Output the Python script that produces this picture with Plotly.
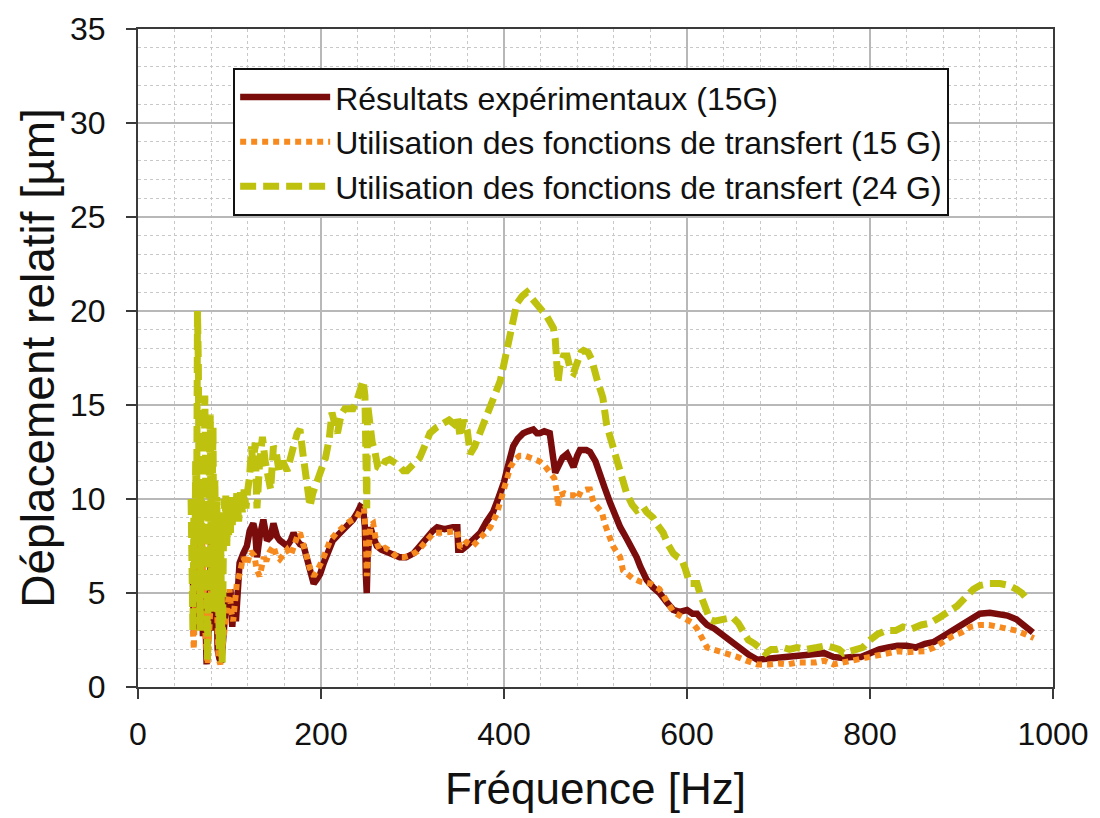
import plotly.graph_objects as go

# ---------------- data ----------------
exp_x = [60, 61, 63, 65, 66, 68, 69, 70, 71, 73, 74, 75, 77, 79, 80, 82, 84, 86, 87, 89, 91, 93, 95, 97, 99,
         101, 103, 105, 107, 109, 111, 115, 119, 122, 126, 128, 130, 133, 137, 141, 145, 148, 152, 155, 159,
         163, 167, 170, 174, 177, 181, 185, 188, 192, 195, 199, 203, 207, 213, 221, 228, 235, 240, 243, 246,
         248, 249, 250, 251, 254, 257, 261, 266, 272, 279, 286, 293, 301, 308, 316, 322, 327, 335, 344, 349,
         350, 354, 359, 366, 374, 381, 388, 392, 396, 400, 403, 407, 410, 415, 421, 426, 432, 436, 439, 444,
         447, 450, 452, 454, 456, 460, 464, 469, 473, 476, 480, 483, 490, 494, 500, 505, 510, 516, 521, 527,
         534, 541, 545, 549, 556, 563, 570, 578, 585, 592, 600, 606, 611, 616, 622, 630, 638, 645, 652, 660,
         668, 677, 690, 700, 710, 720, 730, 740, 750, 760, 770, 780, 790, 800, 810, 820, 830, 840, 850, 860,
         870, 880, 890, 900, 910, 920, 931, 940, 950, 960, 970, 978]
exp_y = [6.0, 3.0, 5.5, 8.0, 6.0, 4.0, 7.0, 4.8, 2.7, 5.0, 2.0, 1.2, 3.0, 6.0, 8.0, 6.0, 3.0, 5.0, 2.0, 1.5, 1.3,
         2.5, 4.0, 5.0, 4.3, 5.2, 3.2, 4.5, 3.5, 5.5, 6.6, 7.1, 7.5, 8.3, 8.7, 8.3, 6.9, 8.0, 8.9, 7.8, 8.0,
         8.7, 8.0, 7.8, 7.6, 7.5, 7.8, 8.2, 7.8, 7.6, 7.5, 6.7, 6.0, 5.5, 5.7, 6.0, 6.6, 7.1, 7.8, 8.2, 8.5,
         8.9, 9.3, 9.6, 9.5, 8.5, 6.0, 5.0, 7.0, 8.5, 8.0, 7.5, 7.3, 7.2, 7.0, 6.9, 6.9, 7.1, 7.5, 8.0, 8.3,
         8.5, 8.4, 8.5, 8.5, 7.3, 7.3, 7.5, 7.8, 8.2, 8.8, 9.3, 9.8, 10.3, 10.9, 11.5, 12.2, 12.8, 13.2, 13.5,
         13.6, 13.7, 13.5, 13.5, 13.6, 13.5, 13.5, 12.8, 12.1, 11.4, 11.8, 12.2, 12.4, 12.0, 11.7, 12.3, 12.6,
         12.6, 12.5, 12.0, 11.4, 10.6, 9.8, 9.1, 8.5, 7.9, 7.3, 6.9, 6.4, 5.7, 5.3, 5.0, 4.5, 4.1, 4.0, 4.1,
         3.9, 3.9, 3.6, 3.3, 3.1, 2.8, 2.6, 2.3, 2.0, 1.7, 1.45, 1.5, 1.5, 1.6, 1.6, 1.7, 1.75, 1.8, 1.6, 1.55,
         1.6, 1.6, 1.8, 2.0, 2.1, 2.2, 2.2, 2.1, 2.3, 2.4, 2.7, 3.0, 3.3, 3.6, 3.9, 3.95, 3.9, 3.8, 3.6, 3.2, 2.9]

tf15_x = [60, 61, 62, 64, 66, 67, 68, 69, 70, 72, 74, 76, 78, 80, 82, 84, 86, 88, 90, 92, 94, 96, 98, 100,
          102, 104, 106, 108, 111, 115, 119, 123, 127, 130, 133, 137, 141, 144, 148, 151, 155, 159, 163, 167,
          170, 174, 177, 181, 185, 188, 192, 196, 202, 206, 210, 217, 224, 231, 239, 243, 247, 249, 250, 252,
          254, 257, 260, 264, 270, 277, 283, 290, 297, 305, 312, 318, 323, 333, 342, 349, 352, 359, 366, 372,
          377, 385, 392, 396, 399, 403, 407, 412, 417, 423, 428, 434, 439, 444, 450, 455, 458, 459, 461, 466,
          471, 476, 480, 484, 490, 494, 498, 503, 507, 510, 514, 519, 523, 527, 530, 535, 540, 549, 560, 570,
          578, 585, 592, 600, 606, 611, 616, 622, 628, 636, 645, 655, 665, 677, 690, 700, 710, 720, 730, 740,
          750, 760, 770, 780, 790, 800, 810, 820, 830, 840, 850, 860, 870, 880, 890, 900, 910, 920, 930, 940,
          950, 960, 970, 979]
tf15_y = [3.0, 2.0, 4.0, 6.0, 8.0, 5.0, 8.7, 5.0, 8.4, 4.0, 2.0, 1.2, 3.0, 6.5, 8.0, 8.0, 4.0, 1.5, 1.2, 2.0,
          3.0, 3.5, 4.2, 5.2, 4.0, 3.5, 4.5, 5.5, 6.0, 6.9, 6.5, 7.2, 7.0, 6.2, 5.9, 6.8, 6.8, 7.2, 7.5, 7.0,
          6.8, 7.0, 7.3, 7.0, 7.5, 8.0, 8.2, 7.5, 6.8, 6.3, 5.9, 6.2, 6.8, 7.3, 7.8, 8.2, 8.5, 8.8, 9.0, 9.4,
          9.5, 8.0, 5.9, 7.5, 8.6, 8.7, 7.8, 7.3, 7.4, 7.2, 6.9, 6.9, 7.0, 7.2, 7.6, 8.0, 8.2, 8.2, 8.3, 8.3,
          7.4, 7.7, 7.5, 7.8, 8.0, 8.5, 9.2, 9.9, 10.5, 11.1, 11.7, 12.1, 12.3, 12.3, 12.2, 12.1, 12.0, 11.8,
          11.4, 11.1, 10.3, 9.6, 10.2, 10.3, 10.2, 10.2, 10.0, 10.4, 10.5, 10.5, 9.8, 9.5, 9.3, 8.7, 8.1, 7.5,
          7.2, 6.9, 6.2, 6.0, 5.8, 5.6, 5.5, 5.2, 4.6, 4.0, 3.8, 3.6, 3.4, 3.1, 2.6, 2.1, 2.0, 1.9, 1.8, 1.6,
          1.4, 1.2, 1.2, 1.25, 1.2, 1.3, 1.3, 1.3, 1.4, 1.2, 1.3, 1.4, 1.5, 1.6, 1.7, 1.8, 1.9, 1.85, 1.9,
          1.9, 2.1, 2.4, 2.7, 2.9, 3.2, 3.3, 3.3, 3.2, 3.1, 3.0, 2.8, 2.6]

tf24_x = [58, 59, 60, 61, 62, 63, 64, 65, 66, 67, 68, 69, 70, 71, 72, 73, 74, 75, 76, 77, 78, 79, 80, 81, 82,
          83, 84, 85, 86, 87, 88, 89, 90, 91, 92, 93, 94, 95, 96, 97, 98, 99, 100, 101, 102, 103, 104, 106,
          108, 110, 112, 114, 116, 118, 120, 122, 124, 126, 128, 130, 133, 136, 139, 142, 145, 148, 151, 154,
          158, 163, 167, 170, 174, 177, 180, 183, 186, 188, 191, 195, 200, 205, 209, 212, 215, 218, 222, 226,
          231, 235, 239, 243, 246, 248, 249, 250, 251, 253, 256, 259, 262, 266, 270, 275, 280, 285, 290, 294,
          300, 308, 314, 319, 326, 333, 340, 345, 349, 352, 356, 360, 363, 368, 372, 377, 383, 388, 392, 396,
          400, 403, 407, 411, 414, 420, 425, 430, 436, 442, 447, 451, 454, 456, 458, 459, 461, 465, 469, 473,
          476, 480, 484, 487, 492, 496, 499, 502, 508, 512, 516, 519, 523, 527, 531, 534, 540, 545, 549, 552,
          556, 560, 563, 568, 574, 579, 585, 590, 594, 598, 603, 608, 611, 614, 618, 622, 625, 630, 640, 650,
          656, 661, 667, 674, 680, 686, 692, 698, 705, 712, 720, 730, 742, 752, 760, 766, 771, 778, 785, 792,
          800, 808, 818, 828, 836, 846, 856, 866, 876, 885, 895, 905, 913, 920, 930, 942, 952, 960, 966, 971]
tf24_y = [10.0, 6.0, 3.0, 9.0, 5.0, 12.0, 8.0, 20.0, 17.0, 6.0, 3.0, 11.0, 7.0, 13.0, 5.0, 15.5, 9.0, 2.0,
          1.4, 8.0, 12.0, 14.5, 6.0, 10.0, 13.8, 4.0, 11.0, 7.0, 10.1, 3.0, 8.0, 2.0, 9.0, 5.0, 1.3, 6.0, 10.0,
          8.0, 10.3, 7.5, 9.5, 8.0, 10.0, 8.2, 10.1, 8.5, 10.1, 9.0, 10.3, 8.8, 10.4, 9.3, 10.5, 9.5, 10.5,
          11.2, 12.8, 11.5, 13.0, 9.5, 12.0, 13.3, 12.0, 11.0, 10.5, 12.8, 12.5, 11.5, 12.0, 11.5, 12.5, 12.8,
          13.5, 13.7, 12.5, 11.5, 10.2, 9.6, 10.3, 10.8, 11.4, 12.2, 13.2, 14.6, 14.0, 13.5, 14.5, 14.8, 14.8,
          14.8, 15.2, 15.8, 16.3, 15.5, 12.0, 9.5, 15.0, 14.0, 13.0, 12.5, 11.7, 11.6, 12.0, 12.1, 12.0, 11.8,
          11.5, 11.5, 11.8, 12.2, 12.9, 13.5, 13.8, 14.0, 14.2, 14.0, 14.4, 13.3, 14.2, 13.6, 12.4, 12.8, 13.3,
          13.7, 14.5, 15.1, 15.7, 16.3, 17.2, 17.9, 19.0, 19.8, 20.4, 20.8, 21.0, 20.7, 20.4, 20.0, 19.7, 19.4,
          19.1, 18.5, 17.2, 16.2, 17.0, 17.6, 17.6, 16.8, 16.7, 17.2, 17.8, 17.9, 17.8, 17.4, 16.8, 16.3, 15.4,
          14.0, 13.3, 12.8, 12.1, 11.5, 10.9, 10.3, 9.7, 9.4, 9.5, 9.6, 9.3, 9.1, 9.0, 8.6, 8.2, 7.6, 7.1, 6.9,
          6.8, 6.3, 5.5, 5.5, 5.5, 5.0, 4.5, 4.0, 3.6, 3.5, 3.6, 3.7, 3.4, 2.9, 2.5, 2.3, 2.1, 1.8, 2.0, 2.0,
          2.1, 2.0, 2.1, 2.0, 2.1, 2.2, 2.1, 2.0, 1.8, 1.9, 2.0, 2.1, 2.5, 2.8, 3.0, 3.0, 3.2, 3.1, 3.3, 3.4,
          3.7, 4.0, 4.3, 4.8, 5.2, 5.4, 5.5, 5.5, 5.4, 5.2, 5.0, 4.7]

series_names = ["Résultats expérimentaux (15G)",
                "Utilisation des fonctions de transfert (15 G)",
                "Utilisation des fonctions de transfert (24 G)"]

x_ticks = [0, 200, 400, 600, 800, 1000]
y_ticks = [0, 5, 10, 15, 20, 25, 30, 35]

# ---------------- figure ----------------
RED = "#7B0C0C"
ORANGE = "#F78A1E"
GREEN = "#BEC10E"
FONT = "Liberation Sans, Arial, sans-serif"
TXT = "#111111"

fig = go.Figure()
fig.add_trace(go.Scatter(x=exp_x, y=exp_y, mode="lines", name=series_names[0],
                         line=dict(color=RED, width=6.5)))
fig.add_trace(go.Scatter(x=tf15_x, y=tf15_y, mode="lines", name=series_names[1],
                         line=dict(color=ORANGE, width=6, dash="6px,5px")))
fig.add_trace(go.Scatter(x=tf24_x, y=tf24_y, mode="lines", name=series_names[2],
                         line=dict(color=GREEN, width=7, dash="16px,7px")))

axis_common = dict(
    showline=True, mirror=True, linecolor="#3a3a3a", linewidth=2,
    ticks="outside", ticklen=10, tickwidth=2, tickcolor="#3a3a3a",
    showgrid=True, gridcolor="#b8b8b8", gridwidth=1.5,
    zeroline=False, automargin=False,
    tickfont=dict(family=FONT, size=32, color=TXT),
)

# page body has an 8px margin, so the figure is 1092x810 to fill the 1100x818 window
fig.update_layout(
    width=1092, height=810,
    margin=dict(l=130, r=47, t=21, b=131),
    paper_bgcolor="white", plot_bgcolor="white",
    font=dict(family=FONT, color=TXT),
    showlegend=True,
    legend=dict(x=0.104, y=0.941, xanchor="left", yanchor="top",
                bgcolor="white", bordercolor=TXT, borderwidth=2,
                font=dict(family=FONT, size=32, color=TXT),
                itemwidth=90, tracegroupgap=0),
    xaxis=dict(range=[0, 1000], tickvals=x_ticks, ticktext=[str(v) for v in x_ticks],
               ticklabelstandoff=8,
               title=dict(text="Fréquence [Hz]", font=dict(family=FONT, size=44, color=TXT),
                          standoff=22),
               minor=dict(dtick=40, tick0=0, showgrid=True, griddash="dot", gridcolor="#c8c8c8",
                          gridwidth=1),
               **axis_common),
    yaxis=dict(range=[0, 35], tickvals=y_ticks, ticktext=[str(v) for v in y_ticks],
               ticklabelstandoff=14,
               title=dict(text="Déplacement relatif [µm]", font=dict(family=FONT, size=46, color=TXT),
                          standoff=1),
               minor=dict(dtick=1, tick0=0, showgrid=True, griddash="dot", gridcolor="#c8c8c8",
                          gridwidth=1),
               **axis_common),
)

fig.write_html("out.html")
